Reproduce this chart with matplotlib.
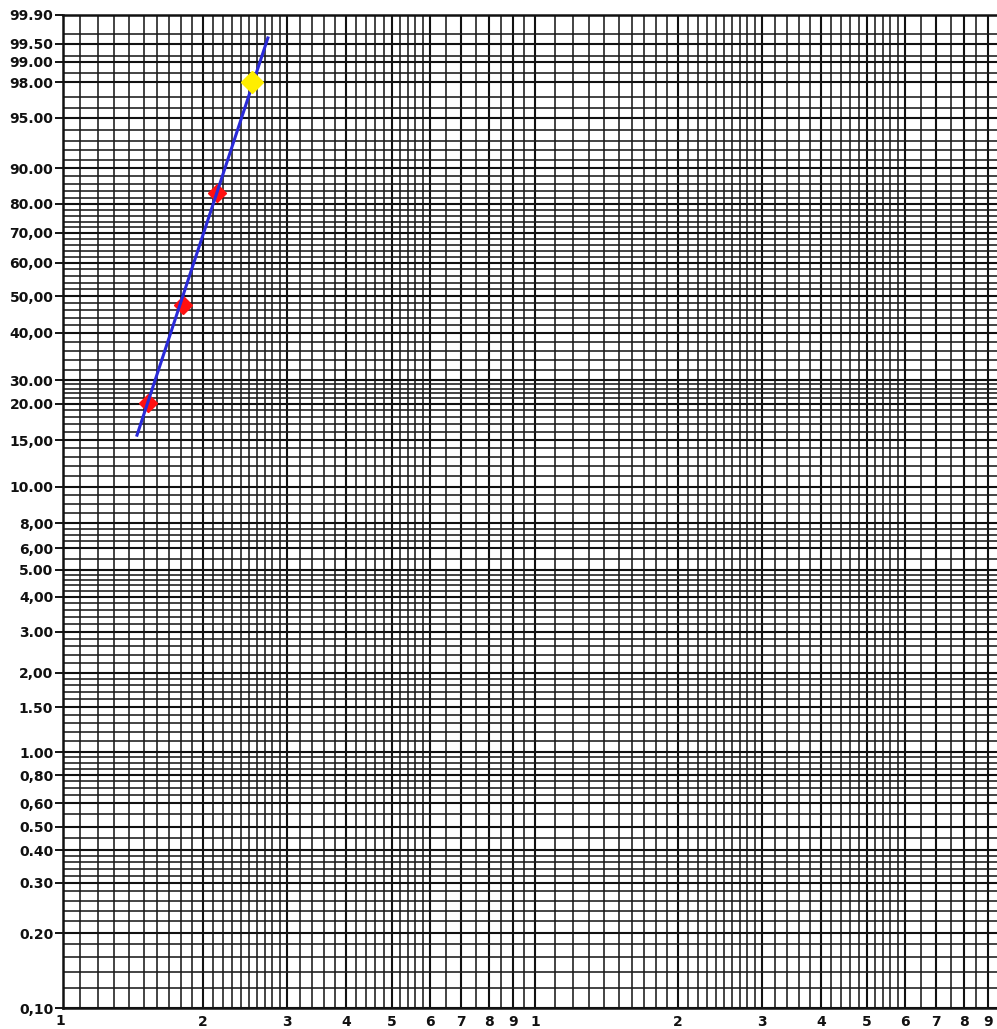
import matplotlib.pyplot as plt
import numpy as np
from matplotlib.ticker import FixedLocator, NullFormatter

# printed labels of the probability axis (percent), bottom to top
prob_ticks = [0.1, 0.2, 0.3, 0.4, 0.5, 0.6, 0.8, 1.0, 1.5, 2.0, 3.0, 4.0, 5.0, 6.0, 8.0,
              10.0, 15.0, 20.0, 30.0, 40.0, 50.0, 60.0, 70.0, 80.0, 90.0, 95.0, 98.0,
              99.0, 99.5, 99.9]
prob_labels = ["0,10", "0.20", "0.30", "0.40", "0.50", "0,60", "0,80", "1.00", "1.50",
               "2,00", "3.00", "4,00", "5.00", "6,00", "8,00", "10.00", "15,00", "20.00",
               "30.00", "40,00", "50,00", "60,00", "70,00", "80.00", "90.00", "95.00",
               "98.00", "99.00", "99.50", "99.90"]
# where each printed label sits on the scanned sheet (fraction of the ruled height)
paper_rule = [0.0, 0.0755, 0.1259, 0.1591, 0.1823, 0.2064, 0.2346, 0.2578, 0.3031,
              0.3374, 0.3787, 0.4139, 0.4411, 0.4632, 0.4884, 0.5247, 0.5720, 0.6083,
              0.6324, 0.6798, 0.7170, 0.7503, 0.7805, 0.8097, 0.8459, 0.8963, 0.9325,
              0.9527, 0.9708, 1.0]

# x axis labels (two log decades, the second one cut at the sheet edge)
x_ticks = [1, 2, 3, 4, 5, 6, 7, 8, 9, 10, 20, 30, 40, 50, 60, 70, 80, 90]
x_labels = ["1", "2", "3", "4", "5", "6", "7", "8", "9", "1", "2", "3", "4", "5", "6",
            "7", "8", "9"]

# ruling of the paper
x_grid = np.r_[np.arange(1, 3, 0.1), np.arange(3, 6, 0.2), np.arange(6, 10, 0.5),
               np.arange(10, 30, 1), np.arange(30, 60, 2), np.arange(60, 95, 5)]
prob_grid = np.r_[np.arange(0.10, 0.40, 0.02), np.arange(0.40, 1.0, 0.05),
                  np.arange(1.0, 2.0, 0.1), np.arange(2.0, 5.0, 0.2),
                  np.arange(5.0, 10.0, 0.5), np.arange(10, 20, 1), np.arange(20, 90, 2),
                  np.arange(90, 99, 1), [98.5, 99.2, 99.5, 99.7, 99.9]]

# plotted points and fitted line
pts_x = [1.53, 1.815, 2.14]
pts_p = [20.3, 47.5, 83.4]
hi_x = [2.54]
hi_p = [98.0]
fit_x = [1.453, 2.74]
fit_p = [15.6, 99.63]


def weib(p):
    p = np.clip(np.asarray(p, dtype=float), 1e-6, 100 - 1e-9)
    return np.log(-np.log(1 - p / 100.0))


W_KNOTS = weib(prob_ticks)
U_KNOTS = np.asarray(paper_rule)


def _lin(x, xp, fp):
    x = np.asarray(x, dtype=float)
    y = np.interp(x, xp, fp)
    y = np.where(x < xp[0], fp[0] + (x - xp[0]) * (fp[1] - fp[0]) / (xp[1] - xp[0]), y)
    y = np.where(x > xp[-1], fp[-1] + (x - xp[-1]) * (fp[-1] - fp[-2]) / (xp[-1] - xp[-2]), y)
    return y


def forward(p):
    return _lin(weib(p), W_KNOTS, U_KNOTS)


def inverse(u):
    w = _lin(u, U_KNOTS, W_KNOTS)
    return 100.0 * (1 - np.exp(-np.exp(w)))


fig = plt.figure(figsize=(9.97, 10.29), dpi=100)
ax = fig.add_axes([63 / 997, 21 / 1029, 934 / 997, 993 / 1029])

ax.set_xscale('log')
ax.set_yscale('function', functions=(forward, inverse))
ax.set_xlim(1.015, 93.9)
ax.set_ylim(0.1, 99.9)

ax.set_yticks(prob_ticks, labels=prob_labels)
ax.yaxis.set_minor_locator(FixedLocator(prob_grid))
ax.yaxis.set_minor_formatter(NullFormatter())
ax.set_xticks(x_ticks[1:], labels=x_labels[1:])
ax.xaxis.set_minor_locator(FixedLocator(x_grid))
ax.xaxis.set_minor_formatter(NullFormatter())
# the "1" under the left edge of the sheet
ax.text(1.0, -0.006, "1", transform=ax.get_xaxis_transform(), ha='center', va='top',
        fontsize=10, fontweight='bold', color='#111111')

ax.grid(which='major', color='#111111', linewidth=1.5)
ax.grid(which='minor', color='#1a1a1a', linewidth=1.15)
ax.set_axisbelow(True)

ax.tick_params(axis='y', which='major', length=6, width=1.3, pad=1, direction='out')
ax.tick_params(axis='x', which='major', length=0, pad=5)
ax.tick_params(which='minor', length=0)
for lab in ax.get_yticklabels() + ax.get_xticklabels():
    lab.set_fontsize(10)
    lab.set_fontweight('bold')
    lab.set_color('#111111')

for side in ('left', 'bottom', 'top'):
    ax.spines[side].set_linewidth(1.8)
    ax.spines[side].set_color('#111111')
ax.spines['right'].set_visible(False)

ax.plot(pts_x, pts_p, linestyle='none', marker='D', markersize=9,
        color='#ff1010', zorder=3)
ax.plot(fit_x, fit_p, color='#2a2ad8', linewidth=2.2, zorder=4)
ax.plot(hi_x, hi_p, linestyle='none', marker='D', markersize=11,
        color='#ffee00', zorder=5)

fig.savefig('out.png', dpi=100)
